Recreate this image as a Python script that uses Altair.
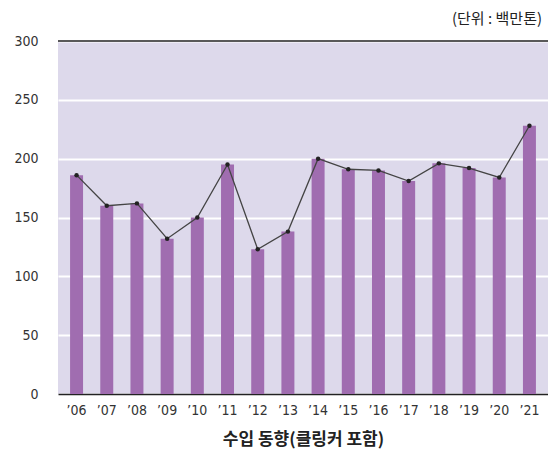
import altair as alt
import pandas as pd

years = ["’06", "’07", "’08", "’09", "’10", "’11", "’12", "’13", "’14", "’15", "’16", "’17", "’18", "’19", "’20", "’21"]
values = [186, 160, 162, 132, 150, 195, 123, 138, 200, 191, 190, 181, 196, 192, 184, 228]
y_ticks = [0, 50, 100, 150, 200, 250, 300]

df = pd.DataFrame({"year": years, "value": values})

NUM_FONT = "Liberation Sans Narrow, DejaVu Sans Condensed, Roboto"
KR_FONT = "Noto Sans CJK KR"
W, H = 490, 353

x = alt.X("year:N", sort=years,
          scale=alt.Scale(paddingInner=0.57, paddingOuter=0.4),
          axis=alt.Axis(title="수입 동향(클링커 포함)", titleFont=KR_FONT, titleFontSize=17,
                        titleFontWeight="bold", titleColor="#222", titlePadding=14,
                        labelFont=NUM_FONT, labelFontSize=14, labelColor="#333",
                        labelPadding=9, labelAngle=0, ticks=False, domain=True,
                        domainColor="#222", domainWidth=1.5, grid=False))
y = alt.Y("value:Q", scale=alt.Scale(domain=[0, 300], nice=False),
          axis=alt.Axis(title=None, values=y_ticks, labelFont=NUM_FONT, labelFontSize=14,
                        labelColor="#333", labelPadding=20, ticks=False, domain=False,
                        grid=True, gridColor="white", gridWidth=2))

base = alt.Chart(df)
bars = base.mark_bar(color="#A06DB0").encode(x=x, y=y)
line = base.mark_line(color="#444", strokeWidth=1.3).encode(x=alt.X("year:N", sort=years), y="value:Q")
pts = base.mark_point(filled=True, color="#222", size=20, opacity=1).encode(x=alt.X("year:N", sort=years), y="value:Q")
top = alt.Chart(pd.DataFrame({"v": [300]})).mark_rule(color="#222", strokeWidth=1.5).encode(y="v:Q")
unit = alt.Chart(pd.DataFrame({"t": ["(단위 : 백만톤)"]})).mark_text(
    font=KR_FONT, fontSize=15, color="#222", align="right", baseline="middle"
).encode(text="t:N", x=alt.value(W - 6), y=alt.value(-22))

chart = alt.layer(bars, line, pts, top, unit).properties(
    width=W, height=H,
    autosize=alt.AutoSizeParams(type="none"),
    padding={"left": 50, "top": 33, "right": 0, "bottom": 62},
).configure_view(fill="#DDD9EB", stroke=None)

chart.save("out.html", embed_options={"renderer": "svg", "actions": False})
